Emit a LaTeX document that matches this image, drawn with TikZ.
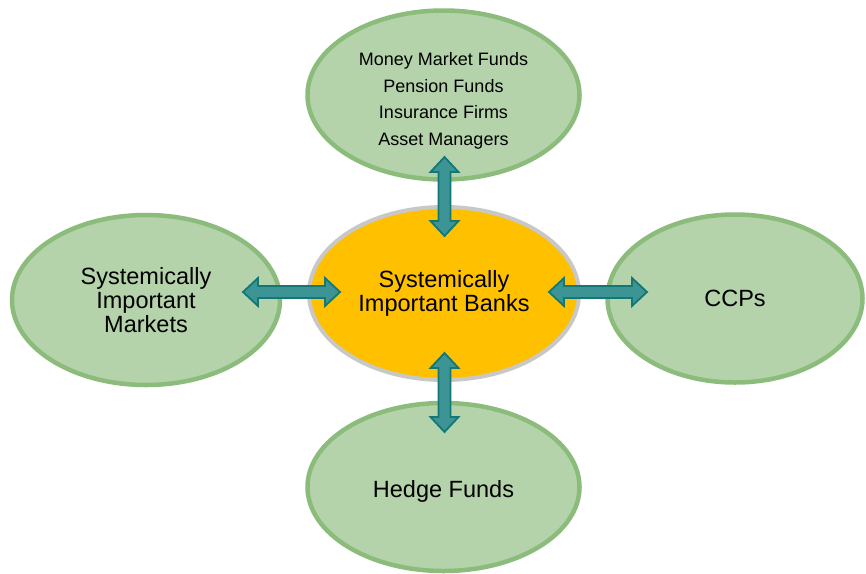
\documentclass[tikz,border=0pt]{standalone}
\usepackage{fontspec}
\setmainfont{Liberation Sans}
\usetikzlibrary{shapes.geometric,calc}
\definecolor{leaffill}{HTML}{B5D3AA}
\definecolor{leafedge}{HTML}{8CBC7C}
\definecolor{corefill}{HTML}{FFC000}
\definecolor{coreedge}{HTML}{C8C8C8}
\definecolor{arrowfill}{HTML}{3C9494}
\definecolor{arrowedge}{HTML}{137875}
\tikzset{
  leaf/.style={ellipse, draw=leafedge, fill=leaffill, line width=4.5pt,
    inner sep=0pt, align=center, text=black,
    font=\fontsize{23.5}{24}\selectfont},
  core/.style={ellipse, draw=coreedge, fill=corefill, line width=4pt,
    inner sep=0pt, align=center, text=black,
    font=\fontsize{23.5}{24}\selectfont},
  caption/.style={align=center, text=black, inner sep=0pt},
  blockarrow/.style={fill=arrowfill, draw=arrowedge, line width=1.8pt,
    line join=miter},
}
% Two-headed block arrow between two named coordinates
\newcommand\twoheadblock[2]{%
  \path ($(#1)!15pt!(#2)$) coordinate (ha) ($(#2)!15pt!(#1)$) coordinate (hb);
  \draw[blockarrow] (#1)
    -- ($(ha)!14pt!90:(#1)$) -- ($(ha)!6pt!90:(#1)$)
    -- ($(hb)!6pt!-90:(#2)$) -- ($(hb)!14pt!-90:(#2)$)
    -- (#2)
    -- ($(hb)!14pt!90:(#2)$) -- ($(hb)!6pt!90:(#2)$)
    -- ($(ha)!6pt!-90:(#1)$) -- ($(ha)!14pt!-90:(#1)$)
    -- cycle;}
\begin{document}
\begin{tikzpicture}[x=1pt,y=-1pt]
  \useasboundingbox (0,0) rectangle (866,573);

  % outer institutions
  \node[leaf, minimum width=272pt, minimum height=169pt] (funds) at (443.5,95) {};
  \node[caption, font=\fontsize{18}{26.5}\selectfont] (fundsText)
    at ($(funds.center)+(0,6)$)
    {Money Market Funds\\Pension Funds\\Insurance Firms\\Asset Managers};
  \node[leaf, minimum width=268pt, minimum height=170pt] (markets) at (146,300)
    {Systemically\\Important\\Markets};
  \node[leaf, minimum width=255pt, minimum height=168pt] (ccps) at (735,298.5)
    {CCPs};
  \node[leaf, minimum width=272pt, minimum height=168pt] (hedge) at (443.5,487) {};
  \node[caption, font=\fontsize{23.5}{24}\selectfont] (hedgeText)
    at ($(hedge.center)+(0,4)$) {Hedge Funds};

  % core
  \node[core, minimum width=270pt, minimum height=173pt] (banks) at (444,293.5)
    {Systemically\\Important Banks};

  % arrow end points
  \coordinate (fundsEnd)   at (444.5,157);
  \coordinate (banksTop)   at (444.5,236);
  \coordinate (marketsEnd) at (243,292);
  \coordinate (banksLeft)  at (340,292);
  \coordinate (banksRight) at (549,292);
  \coordinate (ccpsEnd)    at (647,292);
  \coordinate (banksBot)   at (444.5,353);
  \coordinate (hedgeEnd)   at (444.5,432);

  \twoheadblock{fundsEnd}{banksTop}
  \twoheadblock{marketsEnd}{banksLeft}
  \twoheadblock{banksRight}{ccpsEnd}
  \twoheadblock{banksBot}{hedgeEnd}
\end{tikzpicture}
\end{document}
